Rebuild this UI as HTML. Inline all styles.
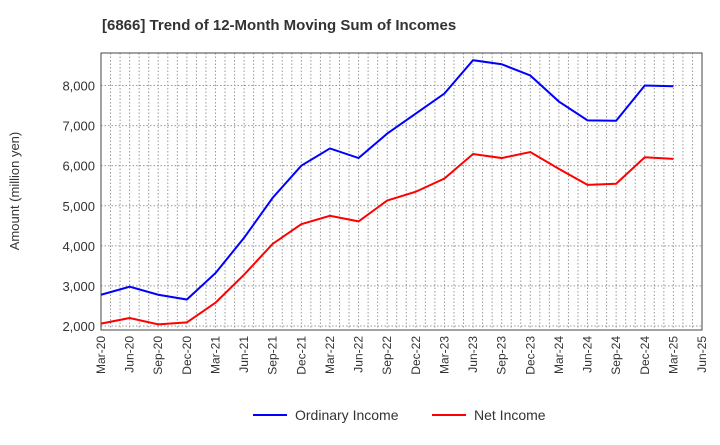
<!DOCTYPE html>
<html><head><meta charset="utf-8"><style>
body{margin:0;background:#fff;font-family:"Liberation Sans",sans-serif;}
</style></head><body>
<svg width="720" height="440" xmlns="http://www.w3.org/2000/svg" id="c">
<text x="102" y="30" font-size="15" font-weight="bold" fill="#333">[6866]  Trend of 12-Month Moving Sum of Incomes</text>
<text transform="translate(19,191) rotate(-90)" text-anchor="middle" font-size="13" fill="#333">Amount (million yen)</text>
<g id="grid"></g><g id="axes"></g><g id="series"></g>
<g>
<line x1="253" y1="415" x2="287" y2="415" stroke="#0000ff" stroke-width="2"/>
<text x="295" y="420" font-size="14" fill="#333">Ordinary Income</text>
<line x1="432" y1="415" x2="466" y2="415" stroke="#ff0000" stroke-width="2"/>
<text x="474" y="420" font-size="14" fill="#333">Net Income</text>
</g>
</svg>
<script>
const categories=["Mar-20","Jun-20","Sep-20","Dec-20","Mar-21","Jun-21","Sep-21","Dec-21","Mar-22","Jun-22","Sep-22","Dec-22","Mar-23","Jun-23","Sep-23","Dec-23","Mar-24","Jun-24","Sep-24","Dec-24","Mar-25","Jun-25"];
const ordinaryIncome=[2780,2980,2780,2660,3320,4200,5200,6000,6430,6190,6800,7300,7800,8630,8530,8250,7600,7130,7120,8000,7980];
const netIncome=[2060,2200,2040,2090,2580,3280,4050,4540,4750,4610,5130,5350,5680,6290,6190,6340,5920,5520,5550,6210,6170];
const yTicks=[2000,3000,4000,5000,6000,7000,8000];
const L=101,R=702,T=53,B=330;
const ns="http://www.w3.org/2000/svg";
const x=i=>L+(R-L)*i/(categories.length-1);
const y=v=>326-(v-2000)*(326-85.5)/6000;
function mk(t,a,p){const e=document.createElementNS(ns,t);for(const k in a)e.setAttribute(k,a[k]);p.appendChild(e);return e;}
const g=document.getElementById('grid'),ax=document.getElementById('axes'),s=document.getElementById('series');
const months=(categories.length-1)*3;
for(let m=1;m<months;m++){const xx=L+(R-L)*m/months;const l=mk('line',{x1:xx,x2:xx,y1:T,y2:B,stroke:'#999','stroke-dasharray':'1.5,2','stroke-width':1},g);}
yTicks.forEach(v=>{const l=mk('line',{x1:L,x2:R,y1:y(v),y2:y(v),stroke:'#999','stroke-dasharray':'1.5,2','stroke-width':1},g);
const t=mk('text',{x:L-6,y:y(v)+5,'text-anchor':'end','font-size':13,fill:'#333'},ax);t.textContent=v.toLocaleString('en-US');});
const fr=mk('rect',{x:L,y:T,width:R-L,height:B-T,fill:'none',stroke:'#444','stroke-width':1},ax);

categories.forEach((c,i)=>{const t=mk('text',{transform:`translate(${x(i)+4},${B+6}) rotate(-90)`,'text-anchor':'end','font-size':12,fill:'#333'},ax);t.textContent=c;});
function line(d,col,name){const p=mk('polyline',{points:d.map((v,i)=>x(i)+','+y(v)).join(' '),fill:'none',stroke:col,'stroke-width':2},s);}
line(ordinaryIncome,'#0000ff','ordinary-income-line');
line(netIncome,'#ff0000','net-income-line');
</script>
</body></html>
